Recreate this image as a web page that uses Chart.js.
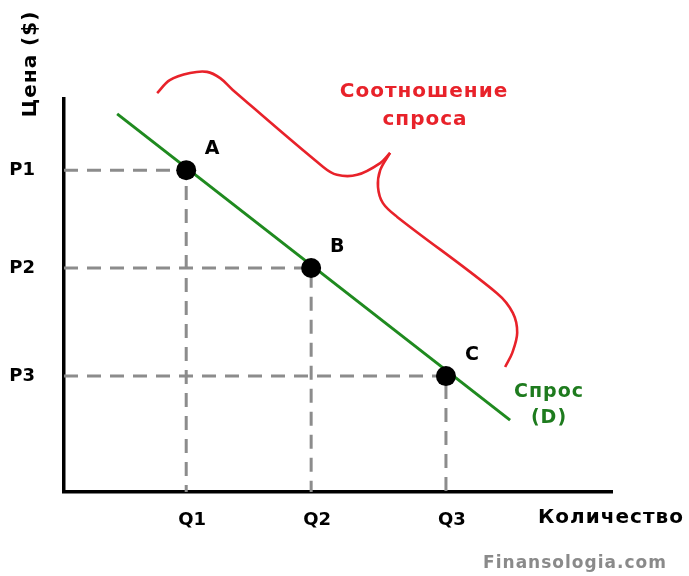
<!DOCTYPE html>
<html><head><meta charset="utf-8">
<script src="https://cdn.jsdelivr.net/npm/chart.js@4.4.1/dist/chart.umd.min.js"></script>
<style>html,body{margin:0;padding:0;background:#fff}canvas{display:block}</style>
</head><body>
<canvas id="c" width="689" height="576"></canvas>
<script>
// ---- data (arbitrary units: x 0..10, y 0..10) ----
const quantityLabels = ['Q1', 'Q2', 'Q3'];
const priceLabels = ['P1', 'P2', 'P3'];
const quantities = [2.23, 4.51, 6.97];
const prices = [8.19, 5.70, 2.95];
const pointNames = ['A', 'B', 'C'];
const demandX = [0.97, 8.14];
const demandY = [9.62, 1.83];
const braceLeftX = [1.70, 1.93, 2.30, 2.61, 2.85, 3.08, 4.73, 4.98, 5.35, 5.77, 5.95];
const braceLeftY = [10.15, 10.48, 10.66, 10.69, 10.53, 10.23, 8.27, 8.07, 8.07, 8.37, 8.63];
const braceRightX = [5.95, 5.77, 5.73, 5.82, 6.08, 7.90, 8.19, 8.27, 8.18, 8.05];
const braceRightY = [8.63, 8.19, 7.76, 7.35, 7.00, 5.06, 4.56, 4.05, 3.54, 3.18];
const axisTitleY = 'Цена ($)';
const axisTitleX = 'Количество';
const braceText = ['Соотношение', 'спроса'];
const demandText = ['Спрос', '(D)'];
const sourceText = 'Finansologia.com';

const FONT = '"DejaVu Sans", Verdana, sans-serif';
const zip = (xs, ys) => xs.map((x, i) => ({x, y: ys[i]}));

const dashData = quantities.map((q, i) => [
  {x: 0, y: prices[i]}, {x: q, y: prices[i]}, {x: q, y: 0}
]);

const datasets = [
  {
    type: 'scatter', data: zip(quantities, prices), order: 0,
    pointRadius: 10, pointBackgroundColor: '#000', pointBorderWidth: 0, showLine: false
  },
  {
    type: 'line', data: zip(demandX, demandY), order: 1,
    borderColor: '#1f8a1f', borderWidth: 3, pointRadius: 0, tension: 0
  },
  {
    type: 'line', data: zip(braceLeftX, braceLeftY), order: 2, clip: false,
    borderColor: '#e8222a', borderWidth: 2.6, pointRadius: 0, tension: 0.35
  },
  {
    type: 'line', data: zip(braceRightX, braceRightY), order: 2, clip: false,
    borderColor: '#e8222a', borderWidth: 2.6, pointRadius: 0, tension: 0.35
  },
  ...dashData.map(d => ({
    type: 'line', data: d, order: 3,
    borderColor: '#8c8c8c', borderWidth: 3, borderDash: [14, 9], pointRadius: 0, tension: 0
  }))
];

const textPlugin = {
  id: 'texts',
  afterDraw(chart) {
    const ctx = chart.ctx;
    ctx.save();
    ctx.textBaseline = 'middle';
    ctx.textAlign = 'center';
    // point names
    ctx.fillStyle = '#000';
    ctx.font = 'bold 19px ' + FONT;
    const meta = chart.getDatasetMeta(0);
    meta.data.forEach((pt, i) => {
      ctx.fillText(pointNames[i], pt.x + 26, pt.y - 21);
    });
    // x-axis title
    ctx.font = 'bold 20px ' + FONT;
    ctx.letterSpacing = '1px';
    ctx.textAlign = 'left';
    ctx.fillText(axisTitleX, 538, 518);
    // y-axis title (rotated)
    ctx.save();
    ctx.translate(31, 64);
    ctx.rotate(-Math.PI / 2);
    ctx.textAlign = 'center';
    ctx.fillText(axisTitleY, 0, 0);
    ctx.restore();
    // brace text
    ctx.textAlign = 'center';
    ctx.fillStyle = '#e8222a';
    ctx.font = 'bold 20px ' + FONT;
    ctx.letterSpacing = '1px';
    ctx.fillText(braceText[0], 424, 92);
    ctx.fillText(braceText[1], 425, 120);
    // demand label
    ctx.fillStyle = '#1e7b1e';
    ctx.font = 'bold 19px ' + FONT;
    ctx.letterSpacing = '1px';
    ctx.fillText(demandText[0], 549, 392);
    ctx.fillText(demandText[1], 549, 418);
    // source
    ctx.fillStyle = '#8a8a8a';
    ctx.font = 'bold 17px ' + FONT;
    ctx.letterSpacing = '1px';
    ctx.fillText(sourceText, 575, 564);
    ctx.restore();
  }
};

new Chart(document.getElementById('c'), {
  data: {datasets},
  options: {
    responsive: false,
    animation: false,
    events: [],
    layout: {padding: {top: 99, right: 77, left: 0, bottom: 0}},
    plugins: {legend: {display: false}, tooltip: {enabled: false}},
    scales: {
      x: {
        type: 'linear', min: 0, max: 10,
        grid: {display: false, drawTicks: false},
        border: {display: true, color: '#000', width: 3.5},
        afterFit: s => { s.height = 84; },
        afterBuildTicks: s => { s.ticks = quantities.map(v => ({value: v})); },
        ticks: {
          autoSkip: false, maxRotation: 0, padding: 18, labelOffset: 6, color: '#000',
          font: {family: FONT, size: 18, weight: 'bold'},
          callback: (v, i) => quantityLabels[i]
        }
      },
      y: {
        type: 'linear', min: 0, max: 10,
        grid: {display: false, drawTicks: false},
        border: {display: true, color: '#000', width: 3.5},
        afterFit: s => { s.width = 64; },
        afterBuildTicks: s => { s.ticks = prices.map(v => ({value: v})); },
        ticks: {
          autoSkip: false, padding: 29, color: '#000',
          font: {family: FONT, size: 18, weight: 'bold'},
          callback: (v, i) => priceLabels[i]
        }
      }
    }
  },
  plugins: [textPlugin]
});
</script>
</body></html>
